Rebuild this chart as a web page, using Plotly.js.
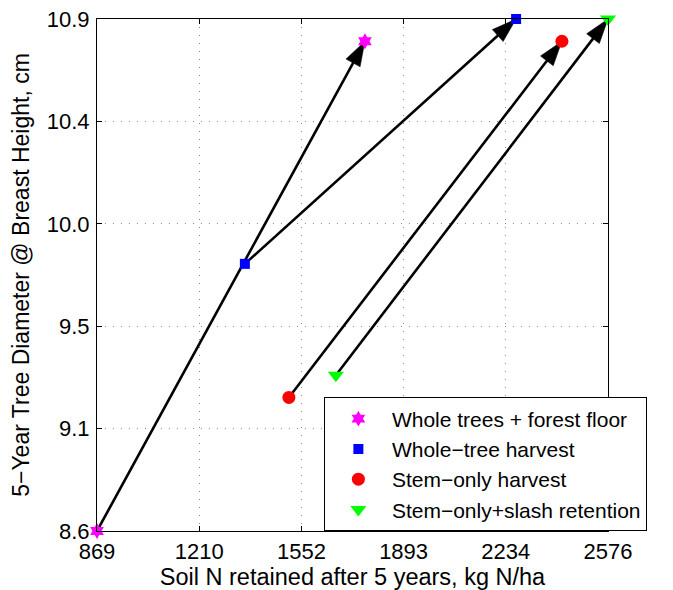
<!DOCTYPE html>
<html><head><meta charset="utf-8">
<script src="https://cdn.plot.ly/plotly-3.0.1.min.js"></script>
<style>body{margin:0;background:#fff}</style>
</head><body><div id="chart" style="width:673px;height:590px"></div>
<script>
const seriesNames = ["Whole trees + forest floor", "Whole\u2212tree harvest", "Stem\u2212only harvest", "Stem\u2212only+slash retention"];
const seriesColors = ["#ff00ff", "#0000ff", "#ff0000", "#00ff00"];
const seriesSymbols = ["hexagram", "square", "circle", "triangle-down"];
const seriesSizes = [12, 10, 13, 14];

const soilN_wholeTreesFloor = [869, 1764];
const dbh_wholeTreesFloor = [8.6, 10.8];
const soilN_wholeTree = [1363, 2269];
const dbh_wholeTree = [9.80, 10.9];
const soilN_stemOnly = [1510, 2422];
const dbh_stemOnly = [9.20, 10.8];
const soilN_stemSlash = [1667, 2576];
const dbh_stemSlash = [9.30, 10.9];

const xTickVals = [869, 1210.4, 1551.8, 1893.2, 2234.6, 2576];
const xTickText = ["869", "1210", "1552", "1893", "2234", "2576"];
const yTickVals = [8.6, 9.06, 9.52, 9.98, 10.44, 10.9];
const yTickText = ["8.6", "9.1", "9.5", "10.0", "10.4", "10.9"];

const xs = [soilN_wholeTreesFloor, soilN_wholeTree, soilN_stemOnly, soilN_stemSlash];
const ys = [dbh_wholeTreesFloor, dbh_wholeTree, dbh_stemOnly, dbh_stemSlash];

const FONT = "Liberation Sans, Arial, Helvetica, sans-serif";
const traces = [];
// arrows
for (let i = 0; i < 4; i++) {
  traces.push({
    x: xs[i], y: ys[i], mode: "lines+markers", showlegend: false, hoverinfo: "skip",
    cliponaxis: false,
    line: {color: "#000", width: 2.6},
    marker: {symbol: "arrow", size: [0, 26], angleref: "previous", color: "#000", opacity: 1,
             line: {color: "#000", width: 0.5}}
  });
}
// points
for (let i = 0; i < 4; i++) {
  traces.push({
    x: xs[i], y: ys[i], mode: "markers", name: seriesNames[i], cliponaxis: false,
    marker: {symbol: seriesSymbols[i], size: seriesSizes[i], color: seriesColors[i], line: {width: 0}}
  });
}

const axisCommon = {
  showline: true, mirror: "ticks", linecolor: "#000", linewidth: 1,
  ticks: "inside", ticklen: 5, tickcolor: "#000", tickwidth: 1,
  showgrid: true, gridcolor: "#888", gridwidth: 1, griddash: "1px,7px",
  zeroline: false, tickfont: {family: FONT, size: 22, color: "#000"}
};

const layout = {
  width: 673, height: 590,
  margin: {l: 97, r: 65, t: 19, b: 59, autoexpand: false},
  paper_bgcolor: "#fff", plot_bgcolor: "#fff",
  font: {family: FONT, color: "#000"},
  xaxis: Object.assign({}, axisCommon, {
    range: [869, 2576], tickmode: "array", tickvals: xTickVals, ticktext: xTickText,
    ticklabelstandoff: 1,
    title: {text: "Soil N retained after 5 years, kg N/ha", font: {family: FONT, size: 23.5, color: "#000"}, standoff: 0}
  }),
  yaxis: Object.assign({}, axisCommon, {
    range: [8.6, 10.9], tickmode: "array", tickvals: yTickVals, ticktext: yTickText,
    ticklabelstandoff: 2,
    title: {text: "5\u2212Year Tree Diameter @ Breast Height, cm", font: {family: FONT, size: 23, color: "#000"}, standoff: 10}
  }),
  legend: {
    x: 0.444, y: 0.13, xanchor: "left", yanchor: "middle",
    bgcolor: "#fff", bordercolor: "#000", borderwidth: 1,
    font: {family: FONT, size: 21, color: "#000"},
    itemwidth: 57, tracegroupgap: 0, entrywidth: 282, entrywidthmode: "pixels"
  }
};

Plotly.newPlot("chart", traces, layout, {displayModeBar: false, staticPlot: true});
</script>
</body></html>
